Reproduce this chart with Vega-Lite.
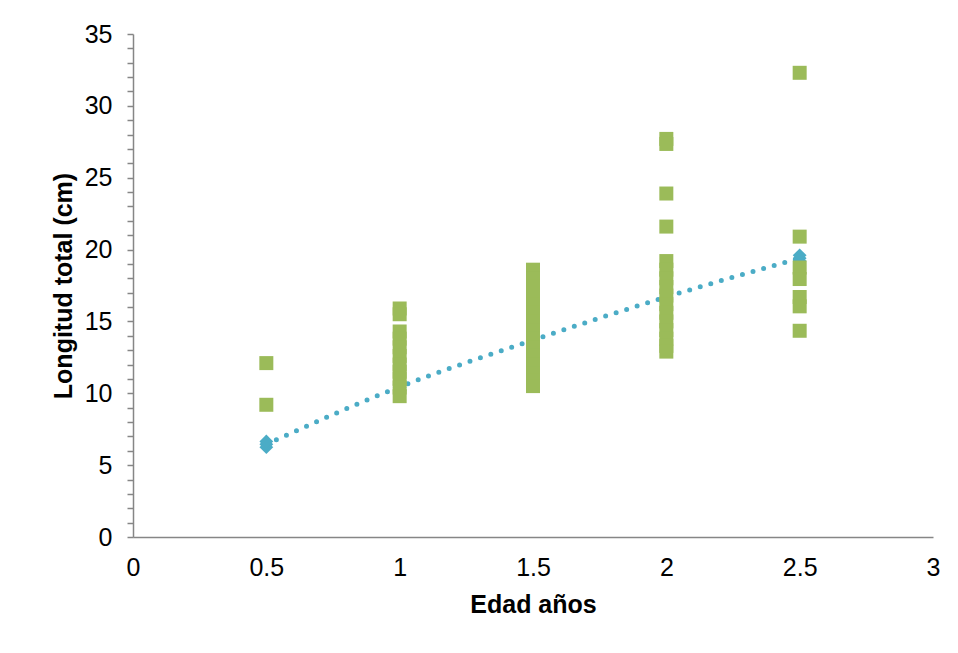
{
  "$schema": "https://vega.github.io/schema/vega-lite/v6.json",
  "width": 800,
  "height": 503,
  "autosize": {"type": "none"},
  "padding": {"left": 133, "top": 34, "right": 25, "bottom": 116},
  "background": "white",
  "config": {
    "view": {"stroke": null},
    "font": "Liberation Sans",
    "axis": {
      "labelFont": "Liberation Sans",
      "titleFont": "Liberation Sans",
      "labelColor": "black",
      "titleColor": "black",
      "domainColor": "#868686",
      "tickColor": "#868686",
      "domainWidth": 1.5,
      "tickWidth": 1.5,
      "grid": false
    }
  },
  "datasets": {
    "longitud": [
      {"edad": 0.5, "cm": 12.1}, {"edad": 0.5, "cm": 9.2},
      {"edad": 1, "cm": 15.9}, {"edad": 1, "cm": 15.5}, {"edad": 1, "cm": 14.3}, {"edad": 1, "cm": 13.8}, {"edad": 1, "cm": 13.2}, {"edad": 1, "cm": 12.6}, {"edad": 1, "cm": 12.0}, {"edad": 1, "cm": 11.5}, {"edad": 1, "cm": 11.0}, {"edad": 1, "cm": 10.4}, {"edad": 1, "cm": 9.8},
      {"edad": 1.5, "cm": 18.6}, {"edad": 1.5, "cm": 18.0}, {"edad": 1.5, "cm": 17.4}, {"edad": 1.5, "cm": 16.8}, {"edad": 1.5, "cm": 16.2}, {"edad": 1.5, "cm": 15.6}, {"edad": 1.5, "cm": 15.0}, {"edad": 1.5, "cm": 14.4}, {"edad": 1.5, "cm": 13.8}, {"edad": 1.5, "cm": 13.2}, {"edad": 1.5, "cm": 12.6}, {"edad": 1.5, "cm": 12.0}, {"edad": 1.5, "cm": 11.4}, {"edad": 1.5, "cm": 10.9}, {"edad": 1.5, "cm": 10.5},
      {"edad": 2, "cm": 27.7}, {"edad": 2, "cm": 27.35}, {"edad": 2, "cm": 23.9}, {"edad": 2, "cm": 21.6}, {"edad": 2, "cm": 19.2}, {"edad": 2, "cm": 18.6}, {"edad": 2, "cm": 18.0}, {"edad": 2, "cm": 17.4}, {"edad": 2, "cm": 16.8}, {"edad": 2, "cm": 16.2}, {"edad": 2, "cm": 15.6}, {"edad": 2, "cm": 15.0}, {"edad": 2, "cm": 14.4}, {"edad": 2, "cm": 13.8}, {"edad": 2, "cm": 13.3}, {"edad": 2, "cm": 12.9},
      {"edad": 2.5, "cm": 32.3}, {"edad": 2.5, "cm": 20.9}, {"edad": 2.5, "cm": 18.75}, {"edad": 2.5, "cm": 17.95}, {"edad": 2.5, "cm": 16.7}, {"edad": 2.5, "cm": 16.05}, {"edad": 2.5, "cm": 14.35}
    ],
    "media": [
      {"edad": 0.5, "cm": 6.25}, {"edad": 0.5, "cm": 6.45}, {"edad": 0.5, "cm": 6.65},
      {"edad": 1, "cm": 10.2}, {"edad": 1, "cm": 10.4}, {"edad": 1, "cm": 10.6},
      {"edad": 1.5, "cm": 13.5}, {"edad": 1.5, "cm": 13.7}, {"edad": 1.5, "cm": 13.9},
      {"edad": 2, "cm": 16.5}, {"edad": 2, "cm": 16.7}, {"edad": 2, "cm": 16.9},
      {"edad": 2.5, "cm": 19.2}, {"edad": 2.5, "cm": 19.4}, {"edad": 2.5, "cm": 19.6}
    ],
    "tendencia": [
      {"edad": 0.5, "cm": 6.45}, {"edad": 1, "cm": 10.45}, {"edad": 1.5, "cm": 13.7}, {"edad": 2, "cm": 16.7}, {"edad": 2.5, "cm": 19.4}
    ]
  },
  "encoding": {
    "x": {
      "field": "edad", "type": "quantitative",
      "scale": {"domain": [0, 3], "nice": false, "zero": true},
      "axis": {
        "values": [0, 0.5, 1, 1.5, 2, 2.5, 3],
        "format": "~g",
        "ticks": false,
        "labelFontSize": 25,
        "labelPadding": 18,
        "title": "Edad años",
        "titleFontSize": 25,
        "titleFontWeight": "bold",
        "titlePadding": 12,
        "labelFlush": false
      }
    },
    "y": {
      "field": "cm", "type": "quantitative",
      "scale": {"domain": [0, 35], "nice": false},
      "axis": {
        "values": [0,1,2,3,4,5,6,7,8,9,10,11,12,13,14,15,16,17,18,19,20,21,22,23,24,25,26,27,28,29,30,31,32,33,34,35],
        "labelExpr": "datum.value % 5 == 0 ? datum.label : ''",
        "tickSize": 6,
        "labelFontSize": 25,
        "labelPadding": 15,
        "title": "Longitud total (cm)",
        "titleFontSize": 25,
        "titleFontWeight": "bold",
        "titlePadding": 8,
        "labelFlush": false
      }
    }
  },
  "layer": [
    {
      "data": {"name": "tendencia"},
      "mark": {"type": "line", "color": "#4BACC6", "strokeWidth": 5, "strokeDash": [0, 11], "strokeCap": "round", "interpolate": "monotone"}
    },
    {
      "data": {"name": "media"},
      "mark": {"type": "point", "shape": "diamond", "filled": true, "color": "#4BACC6", "size": 190, "opacity": 1}
    },
    {
      "data": {"name": "longitud"},
      "mark": {"type": "point", "shape": "square", "filled": true, "color": "#9BBB59", "size": 196, "opacity": 1}
    }
  ]
}
